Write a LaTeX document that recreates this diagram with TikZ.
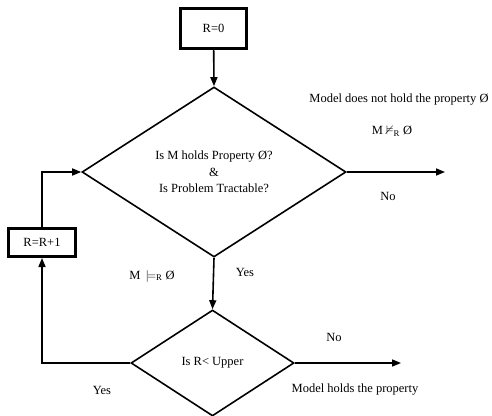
\documentclass[tikz,border=0pt]{standalone}
\usepackage{amssymb}
\usepackage{fontspec}
\setmainfont{Liberation Serif}
\usetikzlibrary{shapes.geometric,arrows.meta}

\begin{document}
\begin{tikzpicture}[x=1pt,y=-1pt,font=\fontsize{12.5}{16.5}\selectfont,
	stepbox/.style={draw,line width=3pt,inner sep=0pt},
	decide/.style={draw,diamond,line width=1.6pt,inner sep=0pt,align=center},
	flow/.style={line width=1.6pt,-{Triangle[length=9pt,width=7pt]}},
	lbl/.style={inner sep=0pt,align=center}]
	\useasboundingbox (0,0) rectangle (492,415);
	\node[stepbox,minimum width=66pt,minimum height=40pt] (rzero) at (213.5,28.5) {R=0};
	\node[decide,minimum width=264pt,minimum height=170pt] (check) at (214,172) {Is M holds Property Ø?\\ \&\\ Is Problem Tractable?};
	\node[stepbox,minimum width=67pt,minimum height=28pt] (rnext) at (42,242.5) {R=R+1};
	\node[decide,minimum width=163pt,minimum height=106pt] (bound) at (212.5,363) {Is R< Upper};
	\coordinate (notout) at (445,172);
	\coordinate (holdout) at (401,363);
	% connectors
	\draw[flow] (rzero) -- (check.north);
	\draw[flow] (check.east) -- (notout);
	\draw[flow] (check.south) -- (bound.north);
	\draw[flow] (bound.east) -- (holdout);
	\draw[flow] (bound.west) -| (rnext.south);
	\draw[flow] (rnext.north) |- (check.west);
	% labels
	\node[lbl] (nothold) at (399,100) {Model does not hold the property Ø};
	\node[lbl] (notmodels) at (392,131) {M $\nvDash_{\mathrm{R}}$ Ø};
	\node[lbl] (noup) at (388,196) {No};
	\node[lbl] (models) at (152,276) {M \,$\models_{\mathrm{R}}$ Ø};
	\node[lbl] (yesup) at (245,272) {Yes};
	\node[lbl] (nodown) at (334,337) {No};
	\node[lbl] (holds) at (355,390) {Model holds the property};
	\node[lbl] (yesdown) at (102,390) {Yes};
\end{tikzpicture}
\end{document}
